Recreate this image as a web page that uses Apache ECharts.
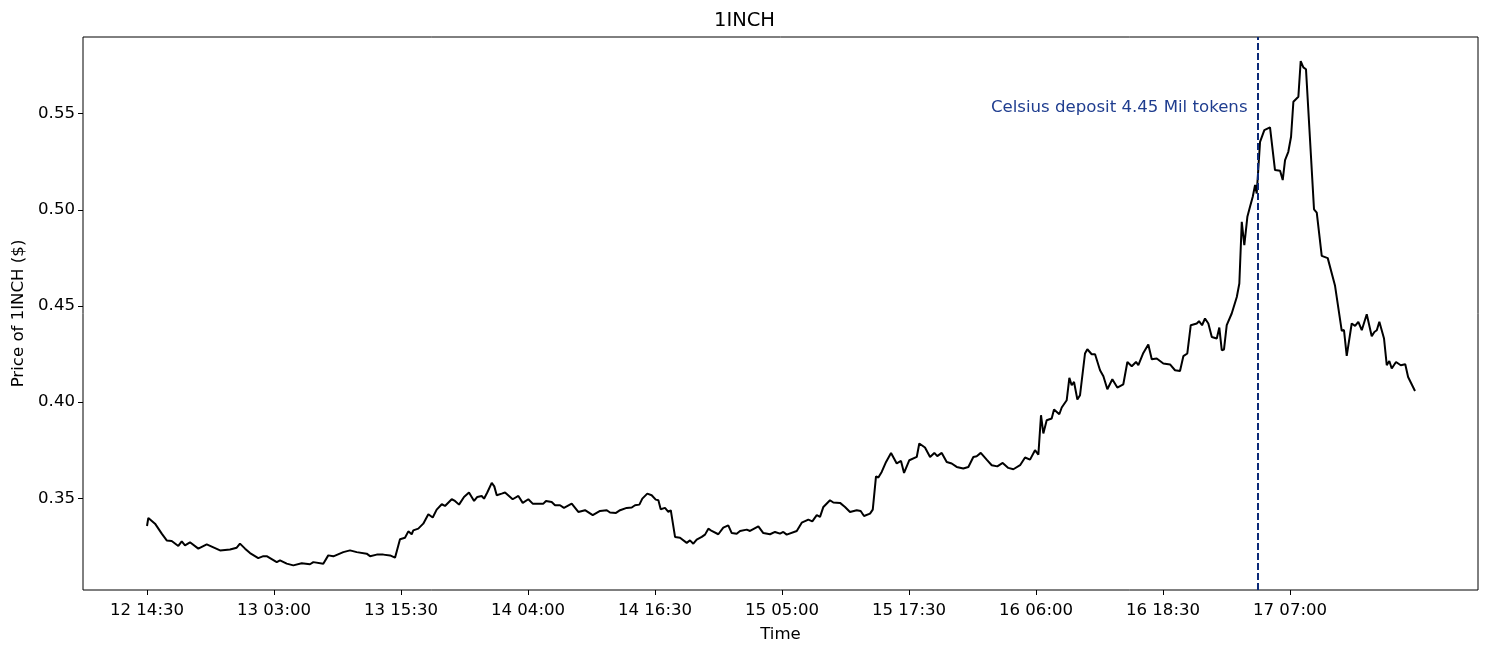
<!DOCTYPE html>
<html>
<head>
<meta charset="utf-8">
<script src="https://cdn.jsdelivr.net/npm/echarts@6/dist/echarts.min.js"></script>
<style>html,body{margin:0;padding:0;background:#fff}#chart{width:1489px;height:652px}</style>
</head>
<body>
<div id="chart"></div>
<script>
// hours since 12 14:30
const hours = [0,0.13,0.79,1.45,1.94,2.43,3.08,3.42,3.74,4.23,5.05,5.88,7.19,8.17,8.83,9.15,9.65,10.14,10.95,11.45,11.78,12.77,13.09,13.75,14.40,15.23,16.04,16.37,17.35,17.84,18.34,19.32,19.98,20.64,21.62,21.95,22.61,23.26,23.92,24.41,24.90,25.39,25.72,26.05,26.21,26.70,27.19,27.69,28.12,28.51,29.01,29.33,29.99,30.31,30.71,31.20,31.69,32.19,32.51,32.94,33.17,33.49,33.93,34.18,34.42,34.91,35.24,35.99,36.55,36.98,37.53,37.96,39.01,39.27,39.83,40.16,40.65,41.04,41.80,42.45,43.11,43.87,44.59,45.25,45.57,46.16,46.56,47.21,47.71,48.03,48.46,48.75,49.24,49.67,50.07,50.33,50.56,50.98,51.31,51.55,51.97,52.46,53.12,53.44,53.77,54.10,54.60,54.92,55.25,55.58,56.23,56.72,57.21,57.55,58.04,58.37,59.03,59.35,60.17,60.66,61.32,61.81,62.30,62.63,62.96,63.95,64.44,65.09,65.48,65.92,66.24,66.57,67.22,67.55,68.21,68.70,69.19,69.85,70.24,70.57,71.16,71.43,71.75,71.98,72.31,72.74,73.23,73.79,74.21,74.51,75.03,75.76,76.01,76.57,77.07,77.49,77.78,78.22,78.71,79.20,79.69,80.34,80.84,81.33,81.66,82.06,82.64,83.14,83.69,84.22,84.77,85.27,85.93,86.42,86.91,87.40,87.73,87.99,88.22,88.55,89.04,89.27,89.79,90.03,90.52,90.78,91.01,91.24,91.57,91.83,92.32,92.55,92.98,93.31,93.80,94.13,94.52,95.01,95.50,96.09,96.49,96.92,97.34,97.57,98.06,98.55,98.89,99.38,100.03,100.69,101.18,101.67,102.00,102.39,102.73,103.32,103.54,103.84,104.13,104.46,104.80,105.29,105.54,105.78,106.00,106.27,106.76,107.26,107.51,107.75,108.00,108.30,108.56,108.83,109.06,109.22,109.55,109.97,110.53,111.02,111.52,111.78,112.01,112.33,112.60,112.83,113.32,113.55,113.81,114.07,114.86,115.13,115.62,116.21,116.93,117.59,117.81,118.08,118.57,118.90,119.22,119.56,120.05,120.54,120.80,121.04,121.29,121.75,122.02,122.27,122.51,122.93,123.40,123.84,124.12,124.80];
const prices = [0.3356,0.3398,0.3368,0.3316,0.3281,0.3278,0.3252,0.3276,0.3255,0.3271,0.3238,0.3260,0.3229,0.3234,0.3243,0.3264,0.3238,0.3215,0.3189,0.3199,0.3199,0.3168,0.3177,0.3160,0.3151,0.3162,0.3157,0.3168,0.3160,0.3203,0.3198,0.3220,0.3229,0.3220,0.3212,0.3199,0.3207,0.3207,0.3203,0.3191,0.3287,0.3295,0.3328,0.3313,0.3333,0.3342,0.3368,0.3417,0.3400,0.3441,0.3469,0.3460,0.3495,0.3486,0.3467,0.3507,0.3530,0.3486,0.3507,0.3512,0.3498,0.3530,0.3580,0.3562,0.3516,0.3524,0.3530,0.3495,0.3512,0.3476,0.3495,0.3472,0.3472,0.3486,0.3481,0.3464,0.3464,0.3450,0.3472,0.3429,0.3438,0.3412,0.3434,0.3438,0.3426,0.3424,0.3438,0.3450,0.3452,0.3464,0.3467,0.3498,0.3524,0.3516,0.3493,0.3490,0.3443,0.3450,0.3429,0.3438,0.3299,0.3295,0.3268,0.3281,0.3264,0.3285,0.3299,0.3311,0.3342,0.3330,0.3313,0.3347,0.3359,0.3319,0.3316,0.3330,0.3337,0.3330,0.3354,0.3319,0.3313,0.3325,0.3316,0.3325,0.3311,0.3330,0.3373,0.3389,0.3380,0.3412,0.3403,0.3455,0.3490,0.3478,0.3476,0.3455,0.3429,0.3438,0.3434,0.3408,0.3420,0.3441,0.3614,0.3608,0.3637,0.3689,0.3736,0.3681,0.3694,0.3632,0.3698,0.3715,0.3785,0.3764,0.3715,0.3736,0.3719,0.3736,0.3689,0.3681,0.3663,0.3655,0.3663,0.3715,0.3719,0.3736,0.3701,0.3672,0.3666,0.3684,0.3658,0.3651,0.3672,0.3712,0.3701,0.3750,0.3727,0.3932,0.3837,0.3906,0.3915,0.3962,0.3937,0.3972,0.4010,0.4126,0.4088,0.4105,0.4014,0.4036,0.4253,0.4275,0.4249,0.4249,0.4166,0.4135,0.4067,0.4119,0.4076,0.4093,0.4209,0.4187,0.4209,0.4193,0.4256,0.4300,0.4223,0.4227,0.4201,0.4196,0.4166,0.4162,0.4239,0.4253,0.4400,0.4409,0.4421,0.4400,0.4435,0.4409,0.4339,0.4331,0.4388,0.4270,0.4274,0.4400,0.4461,0.4547,0.4617,0.4938,0.4816,0.4964,0.5016,0.5068,0.5129,0.5085,0.5354,0.5415,0.5429,0.5207,0.5203,0.5155,0.5259,0.5302,0.5380,0.5562,0.5588,0.5774,0.5741,0.5731,0.5003,0.4986,0.4761,0.4749,0.4605,0.4371,0.4375,0.4241,0.4409,0.4397,0.4418,0.4374,0.4457,0.4343,0.4365,0.4374,0.4418,0.4331,0.4192,0.4214,0.4175,0.4209,0.4192,0.4197,0.4131,0.4058];
const xTickValues = [0,12.5,25,37.5,50,62.5,75,87.5,100,112.5];
const xTickLabels = ['12 14:30','13 03:00','13 15:30','14 04:00','14 16:30','15 05:00','15 17:30','16 06:00','16 18:30','17 07:00'];
const yTickValues = [0.35,0.40,0.45,0.50,0.55];
const eventHour = 109.3;
const eventLabel = 'Celsius deposit 4.45 Mil tokens';

const font = 'DejaVu Sans';
const fs = 16.6;
const chart = echarts.init(document.getElementById('chart'), null, {renderer:'canvas'});
chart.setOption({
  animation:false,
  textStyle:{fontFamily:font},
  title:{text:'1INCH', left:'center', top:6, textStyle:{fontFamily:font,fontSize:19.5,fontWeight:'normal',color:'#000'}},
  grid:{left:83, right:11, top:37, bottom:62, show:true, borderColor:'#000', borderWidth:1, backgroundColor:'transparent'},
  xAxis:{type:'value', min:-6.3, max:131.0,
    name:'Time', nameLocation:'middle', nameGap:36, nameTextStyle:{fontFamily:font,fontSize:fs,color:'#000'},
    axisLine:{show:false, onZero:false}, splitLine:{show:false},
    axisTick:{show:true, length:5, inside:false, lineStyle:{color:'#000'}, customValues:xTickValues},
    axisLabel:{show:true, customValues:xTickValues, margin:12, fontFamily:font, fontSize:fs, color:'#000',
      formatter:function(v){const i=xTickValues.indexOf(v); return i>=0?xTickLabels[i]:'';}}
  },
  yAxis:{type:'value', min:0.3023, max:0.5899,
    name:'Price of 1INCH ($)', nameLocation:'middle', nameGap:56, nameRotate:90, nameTextStyle:{fontFamily:font,fontSize:fs,color:'#000'},
    axisLine:{show:false, onZero:false}, splitLine:{show:false},
    axisTick:{show:true, length:5, lineStyle:{color:'#000'}, customValues:yTickValues},
    axisLabel:{show:true, customValues:yTickValues, margin:8, fontFamily:font, fontSize:fs, color:'#000',
      formatter:function(v){return v.toFixed(2);}}
  },
  series:[{
    type:'line', showSymbol:false, symbol:'none',
    data:hours.map((h,i)=>[h,prices[i]]),
    lineStyle:{color:'#000', width:2},
    markLine:{symbol:['none','none'], silent:true, animation:false,
      lineStyle:{color:'#0b2a78', type:[7,3], width:2},
      label:{show:false},
      data:[{xAxis:eventHour}]},
    markPoint:{symbol:'circle', symbolSize:0, silent:true,
      label:{show:true, position:'left', distance:10, formatter:eventLabel, fontFamily:font, fontSize:fs, color:'#1f3d8f'},
      data:[{coord:[eventHour,0.5531]}]}
  }]
});
</script>
</body>
</html>
